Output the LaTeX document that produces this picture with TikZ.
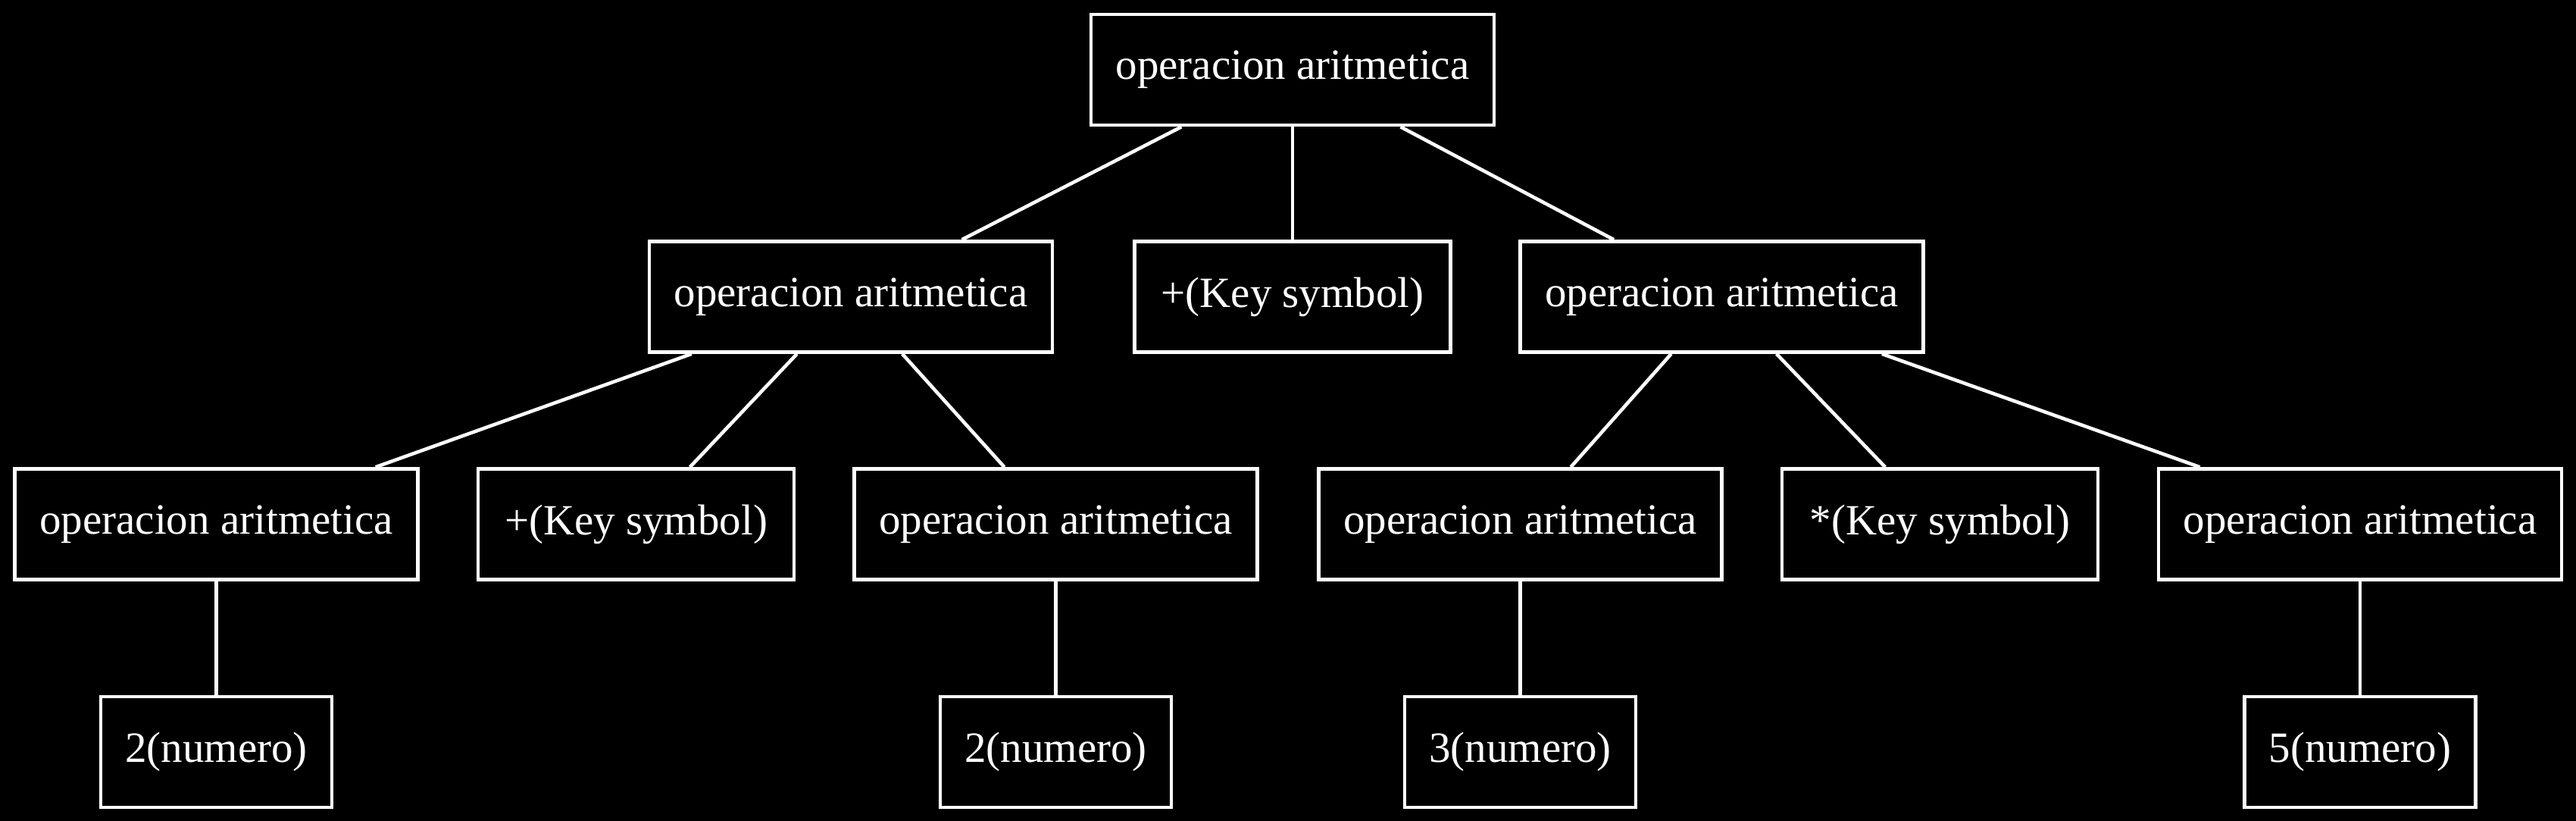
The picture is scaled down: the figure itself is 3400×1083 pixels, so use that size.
\documentclass[tikz,border=0pt]{standalone}
\usepackage{fontspec}
\setmainfont{Liberation Serif}
\begin{document}
\begin{tikzpicture}[x=0.01cm,y=-0.01cm,
  tbox/.style={draw=white, line width=1.3pt, text=white, inner sep=0pt,
    minimum height=1.46cm, font=\fontsize{16.2}{20}\selectfont},
  opbox/.style={tbox, minimum width=5.32cm},
  keybox/.style={tbox, minimum width=4.17cm},
  numbox/.style={tbox, minimum width=3.05cm},
  edge/.style={draw=white, line width=1.3pt}]
\fill[black] (0,0) rectangle (3400,1083);
\useasboundingbox (0,0) rectangle (3400,1083);
% root
\node[opbox] (r) at (1706,92) {operacion aritmetica};
% level 1
\node[opbox] (a) at (1123,391.5) {operacion aritmetica};
\node[keybox] (b) at (1706,391.5) {+(Key symbol)};
\node[opbox] (c) at (2272.5,391.5) {operacion aritmetica};
% level 2
\node[opbox] (a1) at (285.5,691.5) {operacion aritmetica};
\node[keybox] (a2) at (839.5,691.5) {+(Key symbol)};
\node[opbox] (a3) at (1393.5,691.5) {operacion aritmetica};
\node[opbox] (c1) at (2006.5,691.5) {operacion aritmetica};
\node[keybox] (c2) at (2560.5,691.5) {*(Key symbol)};
\node[opbox] (c3) at (3115,691.5) {operacion aritmetica};
% level 3
\node[numbox] (n1) at (285.5,992) {2(numero)};
\node[numbox] (n2) at (1393.5,992) {2(numero)};
\node[numbox] (n3) at (2006.5,992) {3(numero)};
\node[numbox] (n4) at (3115,992) {5(numero)};
% edges
\draw[edge] (r) -- (a);
\draw[edge] (r) -- (b);
\draw[edge] (r) -- (c);
\draw[edge] (a) -- (a1);
\draw[edge] (a) -- (a2);
\draw[edge] (a) -- (a3);
\draw[edge] (c) -- (c1);
\draw[edge] (c) -- (c2);
\draw[edge] (c) -- (c3);
\draw[edge] (a1) -- (n1);
\draw[edge] (a3) -- (n2);
\draw[edge] (c1) -- (n3);
\draw[edge] (c3) -- (n4);
\end{tikzpicture}
\end{document}
